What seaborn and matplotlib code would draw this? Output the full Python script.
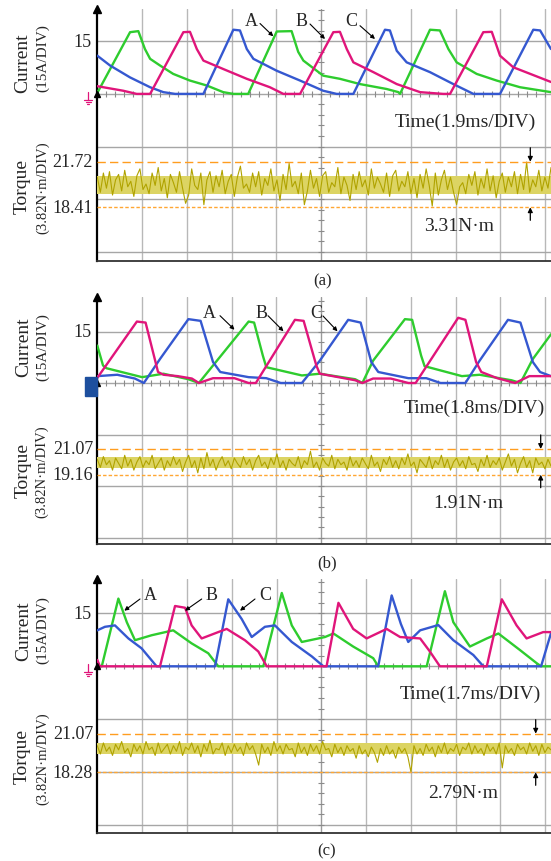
import numpy as np
import seaborn as sns
import matplotlib.pyplot as plt
from matplotlib.patches import Rectangle

sns.set_theme(style="white")
plt.rcParams["font.family"] = ["Liberation Serif", "DejaVu Serif"]

W, H = 551, 862

# ---------------- data read off the scope captures ----------------
# time in ms, phase current in A, torque in N·m

# (a) 1.9 ms/DIV
a_t_A = [0.00, 1.39, 1.74, 2.02, 2.24, 2.66, 3.22, 3.93, 4.64, 5.34, 5.77, 6.40, 7.61, 8.24, 8.52,
         8.74, 9.58, 10.29, 11.14, 12.27, 12.77, 12.84, 14.11, 14.53, 14.89, 15.24, 16.09, 16.94, 17.93, 19.24]
a_i_A = [0.3, 17.6, 17.9, 12.8, 10.0, 8.1, 5.7, 3.8, 2.4, 0.5, 0.0, 0.0, 17.8, 17.9, 12.0,
         9.5, 5.2, 4.3, 2.8, 1.4, 0.5, 0.0, 18.3, 18.1, 12.8, 9.0, 5.7, 3.8, 1.9, 0.5]
a_t_B = [0.00, 1.10, 1.67, 2.24, 3.65, 3.93, 4.22, 4.50, 5.34, 6.34, 7.32, 7.89, 8.60, 10.01,
         10.29, 10.58, 10.86, 11.71, 12.70, 13.69, 14.67, 14.96, 16.37, 16.73, 17.08, 17.64, 19.24]
a_i_B = [2.2, 0.9, 0.0, 0.0, 17.6, 17.7, 12.8, 9.5, 7.1, 4.3, 1.9, 0.0, 0.0, 17.6,
         17.7, 12.8, 9.0, 6.2, 2.8, 0.5, 0.0, 0.0, 17.6, 17.7, 10.9, 7.6, 3.4]
a_t_C = [0.00, 0.54, 1.39, 2.24, 2.80, 3.30, 4.50, 5.77, 6.05, 6.34, 6.62, 7.61, 8.60, 9.58,
         10.15, 10.86, 12.20, 12.41, 12.70, 13.12, 14.11, 15.10, 15.95, 17.08, 18.49, 18.78, 19.24]
a_i_C = [10.9, 8.1, 4.7, 1.9, 0.5, 0.0, 0.0, 18.3, 18.1, 12.8, 10.0, 6.6, 3.8, 0.9,
         0.0, 0.0, 18.3, 18.1, 12.3, 9.0, 6.2, 2.8, 0.0, 0.0, 18.3, 18.1, 12.8]
a_torque = [20.6, 19.5, 20.9, 19.8, 21.0, 19.3, 20.4, 20.8, 19.6, 21.1, 19.9, 20.3, 19.2, 20.7, 21.2,
            19.7, 20.1, 19.4, 20.9, 20.0, 21.3, 19.6, 20.5, 19.1, 20.8, 20.2, 19.5, 21.0, 19.8, 18.7,
            19.3, 21.2, 20.0, 19.7, 20.9, 18.6, 20.4, 21.0, 19.5, 20.7, 19.9, 21.1, 19.4, 20.3, 20.8,
            19.2, 20.6, 21.4, 19.8, 20.1, 19.5, 20.9, 19.9, 21.0, 19.3, 20.5, 20.0, 21.2, 19.6, 20.4,
            18.9, 20.8, 19.7, 21.6, 19.9, 20.3, 19.4, 20.9, 18.6, 19.6, 21.1, 19.8, 20.5, 19.2, 20.7,
            21.0, 19.5, 20.2, 19.9, 21.3, 19.4, 20.6, 20.0, 18.9, 20.8, 19.7, 21.0, 19.9, 20.4, 19.3,
            21.2, 19.8, 20.6, 20.1, 19.5, 20.9, 19.2, 20.7, 21.1, 19.6, 20.3, 19.9, 21.0, 19.4, 20.5,
            19.1, 20.8, 19.8, 21.2, 20.0, 18.5, 20.9, 19.3, 20.4, 21.1, 19.7, 20.6, 19.5, 18.6, 19.9,
            20.2, 19.4, 20.8, 20.0, 21.0, 19.3, 20.5, 19.8, 21.2, 19.6, 20.7, 19.1, 20.3, 20.9, 19.5,
            20.6, 19.9, 21.0, 19.4, 20.8, 19.7, 21.7, 19.5, 20.4, 19.9, 21.1, 19.6, 20.6, 19.8, 21.3]

# (b) 1.8 ms/DIV
b_t_A = [0.00, 0.23, 0.37, 1.80, 2.66, 3.66, 4.08, 4.65, 6.08, 6.30, 6.65, 6.79, 8.22, 8.94,
         10.36, 10.65, 11.08, 12.36, 12.65, 13.01, 13.15, 14.65, 15.36, 16.64, 17.00, 17.50, 18.23]
b_i_A = [10.9, 5.1, 4.3, 1.7, 2.7, 1.1, 0.0, 5.1, 17.9, 17.6, 8.0, 4.6, 2.2, 2.7,
         1.1, 0.0, 6.5, 18.6, 18.4, 8.0, 4.9, 2.0, 2.4, 0.8, 0.0, 7.0, 14.2]
b_t_B = [0.00, 1.59, 1.94, 2.44, 2.66, 3.23, 3.80, 4.08, 4.65, 5.51, 6.08, 6.37, 7.94, 8.29, 8.80,
         8.94, 10.36, 10.65, 11.08, 11.79, 12.50, 12.79, 14.50, 14.79, 15.22, 15.43, 16.07, 16.79, 17.36, 18.23]
b_i_B = [1.5, 17.9, 17.6, 3.2, 2.4, 2.0, 1.3, 0.0, 1.4, 1.4, 0.0, 0.0, 18.4, 18.1, 5.1,
         2.7, 0.8, 0.0, 1.3, 1.3, 0.0, 0.0, 19.0, 18.4, 6.1, 3.2, 1.4, 0.0, 2.0, 2.0]
b_t_C = [0.00, 0.80, 1.51, 1.87, 2.52, 3.66, 4.15, 4.65, 4.94, 6.08, 6.79, 7.37, 8.22, 8.94,
         10.08, 10.58, 11.01, 11.29, 12.50, 13.22, 13.79, 14.79, 15.36, 16.50, 17.00, 17.50, 17.79, 18.23]
b_i_C = [2.0, 2.4, 1.3, 0.0, 7.0, 18.6, 18.1, 6.1, 3.2, 1.7, 1.4, 0.0, 0.0, 6.5,
         18.4, 17.6, 6.1, 3.2, 1.4, 1.4, 0.0, 0.0, 6.5, 18.4, 17.6, 6.1, 3.2, 2.0]
b_torque = [20.3, 19.7, 20.5, 19.9, 20.2, 19.5, 20.4, 20.0, 19.6, 20.6, 19.8, 20.3, 19.5, 20.1, 20.5,
            19.7, 20.2, 19.9, 20.6, 19.6, 20.0, 20.4, 19.5, 20.2, 19.8, 20.5, 19.9, 20.3, 19.4, 20.1,
            20.6, 19.7, 20.2, 19.3, 20.4, 19.6, 20.8, 19.8, 20.3, 19.5, 20.1, 20.5, 19.8, 20.2, 19.6,
            20.4, 20.0, 19.7, 20.5, 19.9, 20.3, 19.5, 20.2, 20.6, 19.8, 20.1, 19.6, 20.4, 19.9, 20.7,
            19.7, 20.2, 19.5, 20.3, 20.0, 19.8, 20.5, 19.6, 20.2, 19.9, 20.9, 19.7, 20.1, 19.5, 20.4,
            20.0, 19.8, 20.6, 19.6, 20.3, 19.9, 20.1, 19.5, 20.5, 19.8, 20.2, 19.7, 20.4, 20.0, 19.6,
            20.6, 19.8, 20.1, 19.4, 20.3, 19.9, 20.5, 19.7, 20.2, 19.6, 20.4, 19.9, 20.7, 19.8, 20.1,
            19.3, 20.3, 20.0, 19.7, 20.5, 19.6, 20.2, 19.9, 20.6, 19.7, 20.3, 19.5, 20.1, 20.4, 19.8,
            20.2, 19.6, 20.5, 19.9, 20.0, 19.4, 20.3, 19.8, 20.6, 19.7, 20.2, 19.9, 20.4, 19.5, 20.1,
            20.7, 19.8, 20.3, 19.3, 20.0, 20.5, 19.7, 20.2, 19.3, 20.4, 19.9, 20.1, 19.6, 20.3, 19.8]

# (c) 1.7 ms/DIV
c_t_A = [0.00, 0.17, 0.80, 1.12, 1.43, 2.06, 2.88, 3.58, 4.21, 4.59, 6.30, 7.00, 7.38, 7.76, 8.64,
         8.96, 9.71, 10.47, 10.66, 12.50, 13.19, 13.51, 14.14, 14.78, 15.22, 16.04, 16.67, 16.84, 17.22]
c_i_A = [0.0, 0.0, 19.2, 12.5, 7.4, 8.8, 10.2, 6.5, 3.7, 0.0, 0.0, 20.8, 11.6, 6.9, 8.3,
         9.3, 5.6, 2.3, 0.0, 0.0, 21.3, 12.5, 5.6, 7.9, 9.3, 4.6, 0.9, 0.0, 0.0]
c_t_B = [0.00, 0.10, 2.38, 2.95, 3.33, 3.58, 3.96, 4.59, 4.91, 5.60, 6.11, 6.43, 8.70, 9.15,
         9.71, 10.22, 10.98, 11.49, 12.25, 12.62, 13.00, 14.78, 15.35, 15.91, 16.29, 16.92, 17.22]
c_i_B = [1.8, 0.0, 0.0, 17.1, 16.6, 11.6, 7.9, 9.7, 10.6, 7.4, 4.2, 0.0, 0.0, 18.0,
         10.6, 7.9, 10.6, 8.3, 7.9, 4.2, 0.0, 0.0, 19.0, 11.6, 7.9, 9.7, 9.7]
c_t_C = [0.00, 0.29, 0.67, 1.18, 1.68, 2.25, 4.47, 4.97, 5.48, 5.86, 6.36, 6.74, 7.38, 8.14,
         8.58, 10.66, 11.17, 11.52, 11.80, 12.25, 12.94, 13.51, 14.27, 14.65, 16.84, 17.22]
c_i_C = [10.2, 11.2, 11.6, 7.9, 5.1, 0.0, 0.0, 19.0, 13.4, 8.3, 11.2, 11.6, 6.9, 2.8,
         0.0, 0.0, 20.1, 12.0, 6.9, 10.2, 11.7, 7.4, 3.2, 0.0, 0.0, 9.5]
c_torque = [20.2, 19.6, 20.4, 19.8, 20.1, 19.5, 20.3, 19.9, 20.5, 19.7, 20.0, 19.4, 20.3, 19.8, 20.2,
            19.6, 20.5, 19.9, 20.1, 19.5, 20.4, 19.7, 20.0, 20.3, 19.6, 20.2, 19.8, 20.5, 19.5, 20.1,
            19.9, 20.4, 19.7, 20.2, 19.4, 20.3, 19.8, 20.6, 19.6, 20.0, 19.9, 20.4, 19.5, 20.2, 19.7,
            20.3, 19.8, 20.1, 19.5, 20.4, 19.9, 20.2, 19.6, 18.8, 20.3, 19.7, 20.1, 19.5, 20.5, 19.8,
            20.2, 19.6, 20.3, 19.9, 20.0, 19.4, 20.4, 19.7, 20.1, 19.5, 20.3, 19.8, 20.2, 19.6, 20.5,
            19.9, 20.0, 19.4, 20.3, 19.7, 20.1, 19.5, 20.2, 19.8, 20.0, 19.3, 20.2, 19.6, 19.9, 19.4,
            20.1, 19.7, 19.0, 20.0, 19.5, 20.2, 19.6, 19.9, 19.3, 20.1, 19.7, 20.0, 19.4, 18.3, 20.2,
            19.6, 20.0, 19.5, 20.3, 19.8, 20.1, 19.4, 20.2, 19.7, 20.4, 19.6, 20.0, 19.8, 20.3, 19.5,
            20.1, 19.9, 20.4, 19.6, 20.2, 19.7, 20.0, 19.5, 20.3, 19.8, 20.1, 19.6, 20.4, 18.6, 20.2,
            19.7, 20.0, 19.5, 20.3, 19.9, 20.1, 19.6, 20.4, 19.8, 20.2, 19.5, 20.3, 19.7, 20.1, 19.9]

# dense core of the torque trace (where the samples pile up)
core_hi = [20.7, 20.45, 20.4]
core_lo = [19.4, 19.65, 19.6]

torque_hi = [21.72, 21.07, 21.07]
torque_lo = [18.41, 19.16, 18.28]
div_ms = [1.9, 1.8, 1.7]
captions = ["(a)", "(b)", "(c)"]

# ---------------- layout (pixel positions on the 551x862 page) ----------------
X0, DX = 97.3, 44.8            # screen left edge, px per time division
panels = [
    dict(top=10, bot=261.7, g0=252.7, dy=52.6, ylo=208.3,
         cur=(22.7, 63), cur2=(43, 58), tq=(21.7, 186), tq2=(43, 187.5),
         time=(536, 122.7), rip=(459, 226.7), cap=(323, 281), arr_x=530.3,
         lbl=[(251.7, 21.7, 260, 24.5, 273.3, 37.3), (301.7, 21.7, 310, 25, 325, 40),
              (351.7, 21.7, 360, 26.7, 375, 40)],
         gnd="#e0157a",
         traces=[(a_t_A, a_i_A), (a_t_C, a_i_C), (a_t_B, a_i_B)], torque=a_torque),
    dict(top=298.3, bot=545, g0=538.5, dy=51.5, ylo=475.7,
         cur=(24, 347.5), cur2=(42.6, 346.7), tq=(23, 470.7), tq2=(42, 471.7),
         time=(545, 408.3), rip=(468, 503.3), cap=(327, 563.3), arr_x=540.7,
         lbl=[(209.6, 313, 220, 316.7, 234.5, 330.7), (261.8, 313, 268, 316.7, 283.5, 332.3),
              (316, 313.3, 323, 317, 337.5, 332.3)],
         gnd=None,
         traces=[(b_t_A, b_i_A), (b_t_C, b_i_C), (b_t_B, b_i_B)], torque=b_torque),
    dict(top=580, bot=834, g0=826, dy=52.9, ylo=773.3,
         cur=(24, 631), cur2=(42.6, 630), tq=(21.7, 756.7), tq2=(43, 758.3),
         time=(541, 694), rip=(463.5, 794), cap=(327, 851.7), arr_x=535.7,
         lbl=[(150, 595, 140, 600, 124.3, 611.7), (211.7, 595, 201.7, 600, 185, 611.7),
              (265, 595, 255, 600, 240, 611.7)],
         gnd="#e0157a",
         traces=[(c_t_A, c_i_A), (c_t_C, c_i_C), (c_t_B, c_i_B)], torque=c_torque),
]
colors = ["#2ecc2e", "#3558d0", "#e0157a"]   # A green, C blue, B magenta (draw order)
GRID = "#b8b8b8"


def fx(x):
    return x / W


def fy(y):
    return 1 - y / H


fig = plt.figure(figsize=(W / 100, H / 100), dpi=100)

for k, p in enumerate(panels):
    dms = div_ms[k]
    top, bot, g0, dy = p["top"], p["bot"], p["g0"], p["dy"]
    ax = fig.add_axes([fx(X0), fy(bot), 1 - fx(X0), (bot - top) / H])
    xmax = (W - X0) / DX * dms
    dlo, dhi = (g0 - bot) / dy, (g0 - top) / dy
    # 15 A/DIV, 0 A sits on division 3
    ylim_cur = ((dlo - 3) * 15, (dhi - 3) * 15)

    # grid
    for j in range(1, 11):
        ax.axvline(j * dms, color="#9a9a9a" if j == 5 else GRID, lw=1.0, zorder=0)
    for j in range(0, 5):
        ax.axhline((j - 3) * 15, color="#a6a6a6", lw=1.0, zorder=0)
    yt = np.arange(np.ceil(dlo / 0.2) * 0.2, dhi, 0.2)
    ax.plot(np.full(len(yt), 5 * dms), (yt - 3) * 15, ls="none", marker="_", ms=5,
            mew=0.8, color="#8a8a8a", zorder=0)
    xt = np.arange(0, xmax, 0.2 * dms)
    ax.plot(xt, np.zeros(len(xt)), ls="none", marker="|", ms=4, mew=0.8,
            color="#8a8a8a", zorder=0)

    # phase currents
    for (t, i), c in zip(p["traces"], colors):
        sns.lineplot(x=t, y=i, ax=ax, color=c, lw=1.7, estimator=None, sort=False, zorder=3)

    ax.set_xlim(0, xmax)
    ax.set_ylim(*ylim_cur)
    ax.set_xticks([])
    ax.set_yticks([])
    ax.set_xlabel("")
    ax.set_ylabel("")
    for s in ["top", "right"]:
        ax.spines[s].set_visible(False)
    ax.spines["left"].set_color("black")
    ax.spines["left"].set_linewidth(1.6)
    ax.spines["bottom"].set_color("#333333")
    ax.spines["bottom"].set_linewidth(1.3)
    ax.plot([0], [1], marker="^", ms=6, color="black", transform=ax.transAxes,
            clip_on=False, zorder=6)
    ax.plot([0], [0], marker="^", ms=4, color="black", clip_on=False, zorder=6)

    # torque on its own scale (3.82 N·m/DIV)
    axT = ax.twinx()
    lo_div = (g0 - p["ylo"]) / dy
    tq = p["torque"]
    tt = np.linspace(0, xmax, len(tq))
    axT.fill_between([0, xmax], core_lo[k], core_hi[k], color="#dcd463", lw=0)
    sns.lineplot(x=tt, y=tq, ax=axT, color="#b0a300", lw=0.8, estimator=None, sort=False)
    axT.axhline(torque_hi[k], color="#ff9d1f", lw=1.0, ls=(0, (6, 3)))
    axT.axhline(torque_lo[k], color="#ffa733", lw=1.0, ls=(0, (2.5, 1.5)))
    axT.set_xlim(0, xmax)
    axT.set_ylim(torque_lo[k] + (dlo - lo_div) * 3.82, torque_lo[k] + (dhi - lo_div) * 3.82)
    axT.set_yticks([])
    axT.set_ylabel("")
    for s in axT.spines.values():
        s.set_visible(False)

    # labels
    fs = 14
    fig.text(fx(p["cur"][0]), fy(p["cur"][1]), "Current", rotation=90, ha="center",
             va="center", fontsize=fs)
    fig.text(fx(p["cur2"][0]), fy(p["cur2"][1]), "(15A/DIV)", rotation=90, ha="center",
             va="center", fontsize=11)
    fig.text(fx(p["tq"][0]), fy(p["tq"][1]), "Torque", rotation=90, ha="center",
             va="center", fontsize=fs)
    fig.text(fx(p["tq2"][0]), fy(p["tq2"][1]), "(3.82N·m/DIV)", rotation=90, ha="center",
             va="center", fontsize=10.5)
    fig.text(fx(92), fy(g0 - 4 * dy), "15", ha="right", va="center", fontsize=13)
    y_hi = g0 - (lo_div + (torque_hi[k] - torque_lo[k]) / 3.82) * dy
    fig.text(fx(93), fy(y_hi), f"{torque_hi[k]:.2f}", ha="right", va="center", fontsize=13)
    fig.text(fx(93), fy(p["ylo"]), f"{torque_lo[k]:.2f}", ha="right", va="center", fontsize=13)
    fig.text(fx(p["time"][0]), fy(p["time"][1]), f"Time({dms}ms/DIV)", ha="right",
             va="center", fontsize=fs)
    fig.text(fx(p["rip"][0]), fy(p["rip"][1]), f"{torque_hi[k] - torque_lo[k]:.2f}N·m",
             ha="center", va="center", fontsize=fs)
    fig.text(fx(p["cap"][0]), fy(p["cap"][1]), captions[k], ha="center", va="center",
             fontsize=12)

    # ripple arrows
    akw = dict(arrowstyle="-|>", color="black", lw=0.9, mutation_scale=7, shrinkA=0, shrinkB=0)
    xa = fx(p["arr_x"])
    ax.annotate("", xy=(xa, fy(y_hi)), xytext=(xa, fy(y_hi - 14)),
                xycoords="figure fraction", textcoords="figure fraction", arrowprops=akw)
    ax.annotate("", xy=(xa, fy(p["ylo"])), xytext=(xa, fy(p["ylo"] + 13)),
                xycoords="figure fraction", textcoords="figure fraction", arrowprops=akw)

    # phase tags
    for name, (tx, ty, sx, sy, ex, ey) in zip("ABC", p["lbl"]):
        fig.text(fx(tx), fy(ty), name, ha="center", va="center", fontsize=13)
        ax.annotate("", xy=(fx(ex), fy(ey)), xytext=(fx(sx), fy(sy)),
                    xycoords="figure fraction", textcoords="figure fraction",
                    arrowprops=dict(arrowstyle="-|>", color="black", lw=0.8,
                                    mutation_scale=6, shrinkA=0, shrinkB=0))

    # ground reference marker
    y0 = g0 - 3 * dy
    if p["gnd"]:
        gx = 88
        fig.add_artist(plt.Line2D([fx(gx), fx(gx)], [fy(y0 - 2), fy(y0 + 6)],
                                  color=p["gnd"], lw=0.9, transform=fig.transFigure))
        for dyy, half in [(6, 4), (8, 2.5), (10, 1)]:
            fig.add_artist(plt.Line2D([fx(gx - half), fx(gx + half)], [fy(y0 + dyy)] * 2,
                                      color=p["gnd"], lw=0.9, transform=fig.transFigure))
    else:
        fig.add_artist(Rectangle((fx(85), fy(397)), 12 / W, 19 / H, color="#1d4f9e",
                                 transform=fig.transFigure, zorder=5))

fig.savefig("out.png", dpi=100)
